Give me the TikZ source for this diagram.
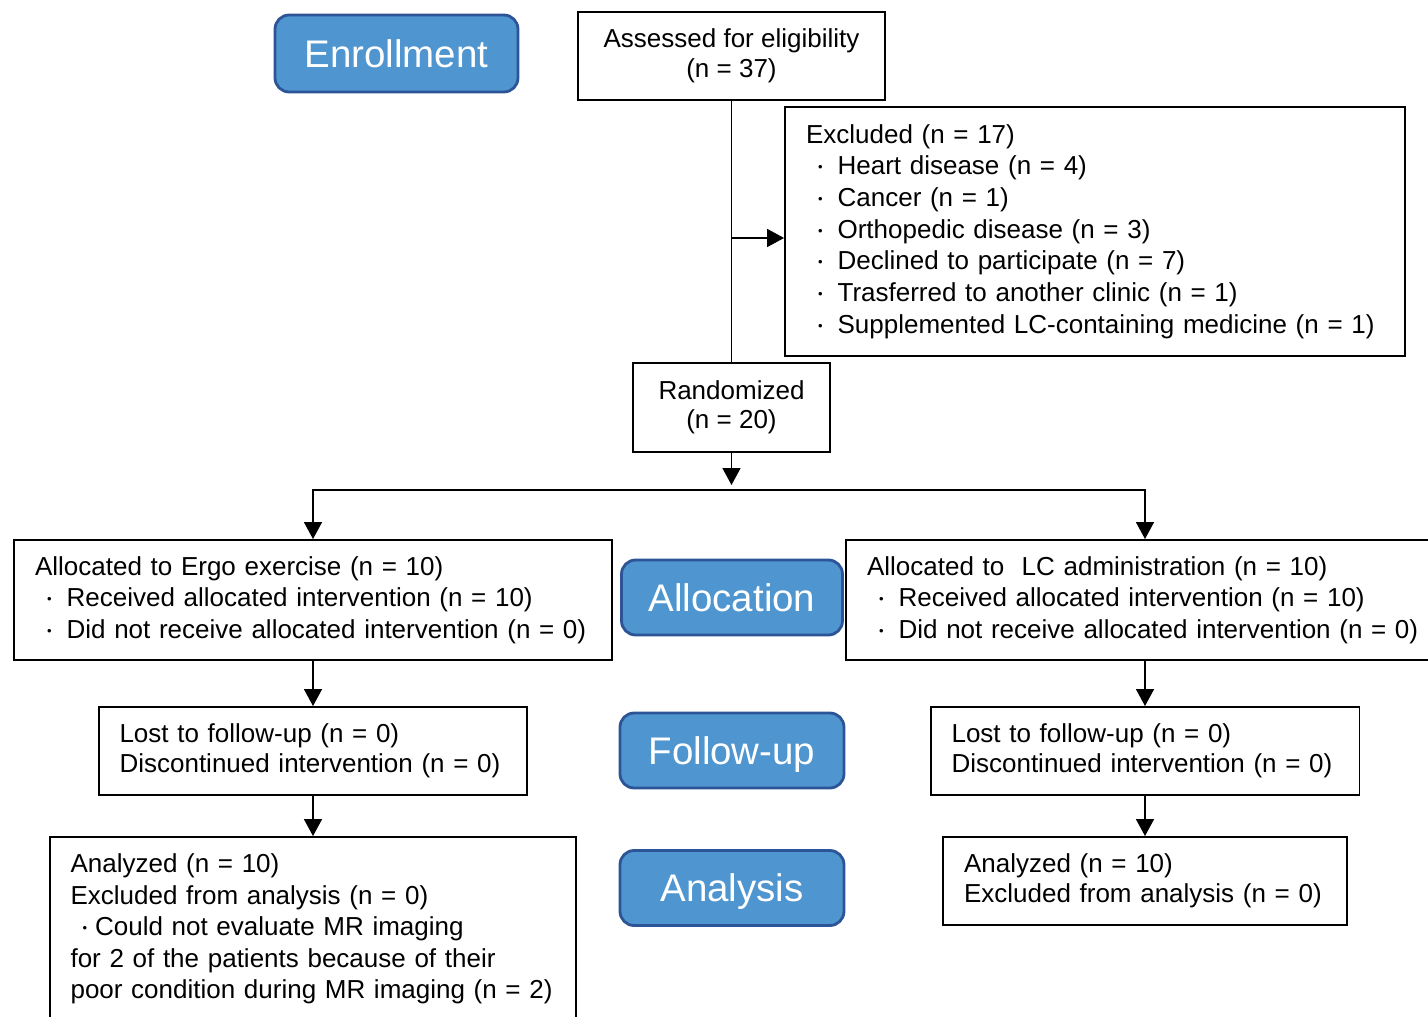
\documentclass[tikz,border=0pt]{standalone}
\usepackage{fontspec}
\setmainfont{Liberation Sans}
\usepackage{tikz}
\usetikzlibrary{arrows.meta}
\definecolor{stageblue}{RGB}{79,149,207}
\definecolor{stageedge}{RGB}{44,84,150}
\newcommand{\dotmark}{\raisebox{0.22ex}{\scalebox{0.5}{\textbullet}}}
\newcommand{\itm}{\hspace{0.24cm}\dotmark\hspace{0.3cm}}

\begin{document}
\begin{tikzpicture}[x=0.02cm,y=-0.02cm,
  box/.style={draw,line width=1.1pt,fill=white,inner sep=0pt,font=\fontsize{14.8}{16.8}\selectfont,align=center},
  listbox/.style={draw,line width=1.1pt,fill=white,inner ysep=0pt,inner xsep=0.42cm,align=left,font=\fontsize{14.8}{18}\selectfont},
  stage/.style={draw=stageedge,line width=1.6pt,fill=stageblue,rounded corners=8pt,text=white,font=\fontsize{21.9}{26}\selectfont,
    minimum height=1.5cm,text height=15.7pt,text depth=0pt},
  arr/.style={-{Triangle[length=0.34cm,width=0.36cm]},line width=0.85pt},
  link/.style={line width=0.85pt}]
  \useasboundingbox (0,0) rectangle (1428,1017);
  \clip (0,0) rectangle (1428,1017);
  % stage labels
  \node[stage,minimum width=4.86cm,minimum height=1.54cm] (enroll) at (396.5,53.5) {Enrollment};
  \node[stage,minimum width=4.42cm] (alloc) at (732,597.5) {Allocation};
  \node[stage,minimum width=4.48cm] (follow) at (732,750.5) {Follow-up};
  \node[stage,minimum width=4.48cm] (analysis) at (732,888) {Analysis};
  % enrollment
  \node[box,minimum width=6.14cm,minimum height=1.76cm] (assess) at (731.5,56) {Assessed for eligibility\\(n = 37)};
  \node[listbox,text width=11.56cm,minimum height=4.98cm] (excl) at (1095,231.5) {Excluded (n = 17)\\
    \itm Heart disease (n = 4)\\
    \itm Cancer (n = 1)\\
    \itm Orthopedic disease (n = 3)\\
    \itm Declined to participate (n = 7)\\
    \itm Trasferred to another clinic (n = 1)\\
    \itm Supplemented LC-containing medicine (n = 1)};
  \node[box,minimum width=3.94cm,minimum height=1.78cm] (rand) at (731.5,407.5) {Randomized\\(n = 20)};
  \coordinate (exc) at (731.5,238);
  \coordinate (split) at (731.5,490);
  % allocation
  \node[listbox,text width=11.12cm,minimum height=2.4cm] (ergo) at (313,600) {Allocated to Ergo exercise (n = 10)\\
    \itm Received allocated intervention (n = 10)\\
    \itm Did not receive allocated intervention (n = 0)};
  \node[listbox,text width=11.12cm,minimum height=2.4cm] (lc) at (1145,600) {Allocated to \ LC administration (n = 10)\\
    \itm Received allocated intervention (n = 10)\\
    \itm Did not receive allocated intervention (n = 0)};
  % follow-up
  \node[listbox,text width=7.74cm,minimum height=1.76cm,font=\fontsize{14.8}{17}\selectfont] (lostL) at (313,751) {Lost to follow-up (n = 0)\\Discontinued intervention (n = 0)};
  \node[listbox,text width=7.74cm,minimum height=1.76cm,font=\fontsize{14.8}{17}\selectfont] (lostR) at (1145,751) {Lost to follow-up (n = 0)\\Discontinued intervention (n = 0)};
  % analysis
  \node[listbox,text width=9.7cm,minimum height=3.68cm] (anaL) at (313,929) {Analyzed (n = 10)\\
    Excluded from analysis (n = 0)\\
    \hspace{0.24cm}\dotmark\hspace{0.16cm}Could not evaluate MR imaging\\
    for 2 of the patients because of their\\
    poor condition during MR imaging (n = 2)};
  \node[listbox,text width=7.24cm,minimum height=1.76cm,font=\fontsize{14.8}{17}\selectfont] (anaR) at (1145,881) {Analyzed (n = 10)\\Excluded from analysis (n = 0)};
  % connectors
  \draw[link] (assess.south) -- (rand.north);
  \draw[arr] (exc) -- (exc -| excl.west);
  \draw[arr,shorten >=0.1cm] (rand.south) -- (split);
  \draw[arr] (split) -| (ergo.north);
  \draw[arr] (split) -| (lc.north);
  \draw[arr] (ergo.south) -- (lostL.north);
  \draw[arr] (lc.south) -- (lostR.north);
  \draw[arr] (lostL.south) -- (anaL.north);
  \draw[arr] (lostR.south) -- (anaR.north);
\end{tikzpicture}
\end{document}
